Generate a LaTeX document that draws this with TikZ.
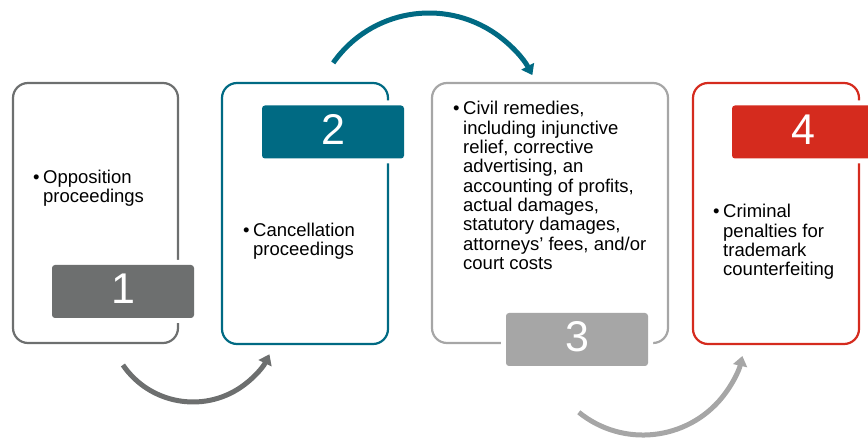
\documentclass[tikz,border=0pt]{standalone}
\usepackage{fontspec}
\setmainfont{Liberation Sans}
\usetikzlibrary{arrows.meta}
\definecolor{dgray}{RGB}{109,111,111}
\definecolor{tealc}{RGB}{0,106,131}
\definecolor{lgray}{RGB}{166,166,166}
\definecolor{redc}{RGB}{213,43,30}
\begin{document}
\begin{tikzpicture}[x=1pt,y=1pt,
  card/.style={draw, line width=2.2pt, rounded corners=15pt},
  numbox/.style={rounded corners=3pt, minimum width=142pt, minimum height=53pt,
    inner sep=0pt, preaction={draw=white, line width=10pt}},
  digit/.style={text=white, font=\fontsize{43}{43}\selectfont, inner sep=0pt},
  txt/.style={font=\fontsize{18.5}{19.3}\selectfont, inner sep=0pt, anchor=base west, text=black},
  arr/.style={line width=5pt, -{Triangle[length=10pt,width=14pt]}}
]
\useasboundingbox (0,0) rectangle (868,-438);
\clip (0,0) rectangle (868,-438);

% cards
\draw[card, dgray] (13,-83) rectangle (178,-343);
\draw[card, tealc] (222,-83) rectangle (388,-344);
\draw[card, lgray] (432,-83) rectangle (668,-343);
\draw[card, redc] (693,-83) rectangle (859,-344);

% number boxes
\node[numbox, fill=dgray] (n1) at (123,-291.5) {};
\node[numbox, fill=tealc] (n2) at (333,-132) {};
\node[numbox, fill=lgray] (n3) at (577,-339.5) {};
\node[numbox, fill=redc] (n4) at (803,-132) {};
\node[digit] (d1) at ([yshift=2.5pt]n1.center) {1};
\node[digit] (d2) at ([yshift=2.5pt]n2.center) {2};
\node[digit] (d3) at ([yshift=2.5pt]n3.center) {3};
\node[digit] (d4) at ([yshift=2.5pt]n4.center) {4};

% texts
\node[txt] (t1) at (33,-183.3) {\begin{tabular}[t]{@{}l@{}}\makebox[10pt][l]{•}Opposition\\\hspace*{10pt}proceedings\end{tabular}};
\node[txt] (t2) at (243,-236.7) {\begin{tabular}[t]{@{}l@{}}\makebox[10pt][l]{•}Cancellation\\\hspace*{10pt}proceedings\end{tabular}};
\node[txt] (t3) at (453,-115) {\begin{tabular}[t]{@{}l@{}}\makebox[10pt][l]{•}Civil remedies,\\
\hspace*{10pt}including injunctive\\
\hspace*{10pt}relief, corrective\\
\hspace*{10pt}advertising, an\\
\hspace*{10pt}accounting of profits,\\
\hspace*{10pt}actual damages,\\
\hspace*{10pt}statutory damages,\\
\hspace*{10pt}attorneys’ fees, and/or\\
\hspace*{10pt}court costs\end{tabular}};
\node[txt] (t4) at (713,-218) {\begin{tabular}[t]{@{}l@{}}\makebox[10pt][l]{•}Criminal\\
\hspace*{10pt}penalties for\\
\hspace*{10pt}trademark\\
\hspace*{10pt}counterfeiting\end{tabular}};

% arrows
\coordinate (a1s) at (122.9,-365);
\coordinate (a2s) at (333.2,-62.9);
\coordinate (a3s) at (578.8,-412.3);
\draw[arr, dgray] (a1s) arc[start angle=214.4, end angle=334, radius=85];
\draw[arr, tealc] (a2s) arc[start angle=145, end angle=28, radius=117];
\draw[arr, lgray] (a3s) arc[start angle=231, end angle=347, radius=102];
\end{tikzpicture}
\end{document}
